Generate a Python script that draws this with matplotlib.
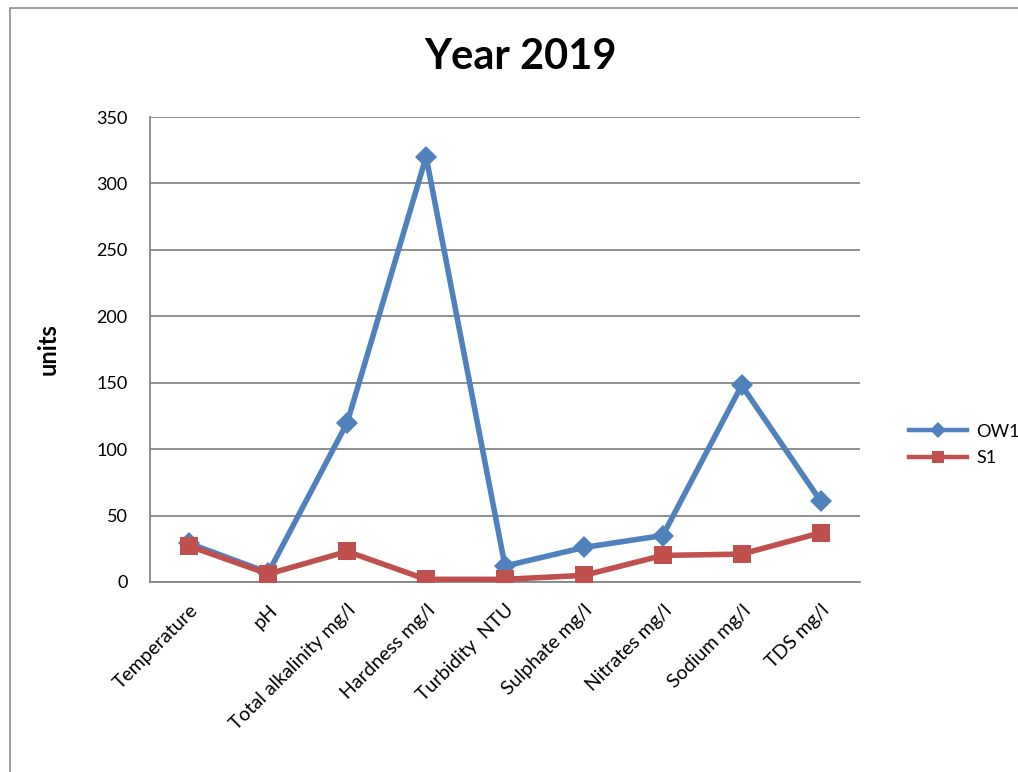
import numpy as np
import matplotlib.pyplot as plt
from matplotlib.patches import Rectangle
from matplotlib.lines import Line2D

plt.rcParams['font.family'] = ['Lato', 'DejaVu Sans']

categories = ['Temperature', 'pH', 'Total alkalinity mg/l', 'Hardness mg/l',
              'Turbidity  NTU', 'Sulphate mg/l', 'Nitrates mg/l', 'Sodium mg/l', 'TDS mg/l']
ow1 = [29, 7, 120, 320, 12, 26, 35, 148, 61]
s1 = [27, 6, 23, 2, 2, 5, 20, 21, 37]
y_ticks = [0, 50, 100, 150, 200, 250, 300, 350]

BLUE = '#4F81BD'
RED = '#C0504D'
GRID = '#868686'

fig = plt.figure(figsize=(10.18, 7.72), dpi=100)
ax = fig.add_axes([150 / 1018, 1 - 582 / 772, 710 / 1018, 465 / 772])

# рамка диаграммы
fig.patches.append(Rectangle((10 / 1018, -0.05), 1.2, 1 - 8 / 772 + 0.05,
                             transform=fig.transFigure, fill=False,
                             edgecolor='#8c8c8c', linewidth=1.2))

x = np.arange(len(categories))
ax.plot(x, ow1, color=BLUE, linewidth=4, marker='D', markersize=11,
        markeredgewidth=0, label='OW1', zorder=3)
ax.plot(x, s1, color=RED, linewidth=4, marker='s', markersize=13,
        markeredgewidth=0, label='S1', zorder=4)

ax.set_xlim(-0.5, len(categories) - 0.5)
ax.set_ylim(0, 350)
ax.set_yticks(y_ticks)
ax.set_yticklabels([str(v) for v in y_ticks], fontsize=13)
ax.set_xticks(x)
ax.set_xticklabels(categories, rotation=45, ha='right', rotation_mode='anchor',
                   fontsize=14)
ax.tick_params(axis='x', length=0, pad=14)
ax.tick_params(axis='y', length=0, pad=16)

ax.grid(axis='y', color=GRID, linewidth=1.3)
ax.set_axisbelow(True)
for side in ['top', 'right']:
    ax.spines[side].set_visible(False)
for side in ['left', 'bottom']:
    ax.spines[side].set_color(GRID)
    ax.spines[side].set_linewidth(1.3)

ax.set_ylabel('units', fontsize=17, fontweight='bold')
ax.yaxis.set_label_coords((60 - 150) / 710, 0.5)
fig.text(520 / 1018, 1 - 57 / 772, 'Year 2019', ha='center', va='center',
         fontsize=30, fontweight='bold')

handles = [Line2D([], [], color=BLUE, linewidth=3.2, marker='D', markersize=8,
                  markeredgewidth=0),
           Line2D([], [], color=RED, linewidth=3.2, marker='s', markersize=9,
                  markeredgewidth=0)]
fig.legend(handles, ['OW1', 'S1'], loc='center left',
           bbox_to_anchor=(893 / 1018, 1 - 445 / 772), frameon=False,
           fontsize=13, handlelength=3.2, handletextpad=0.5, labelspacing=0.6)

fig.savefig('out.png', dpi=100)
